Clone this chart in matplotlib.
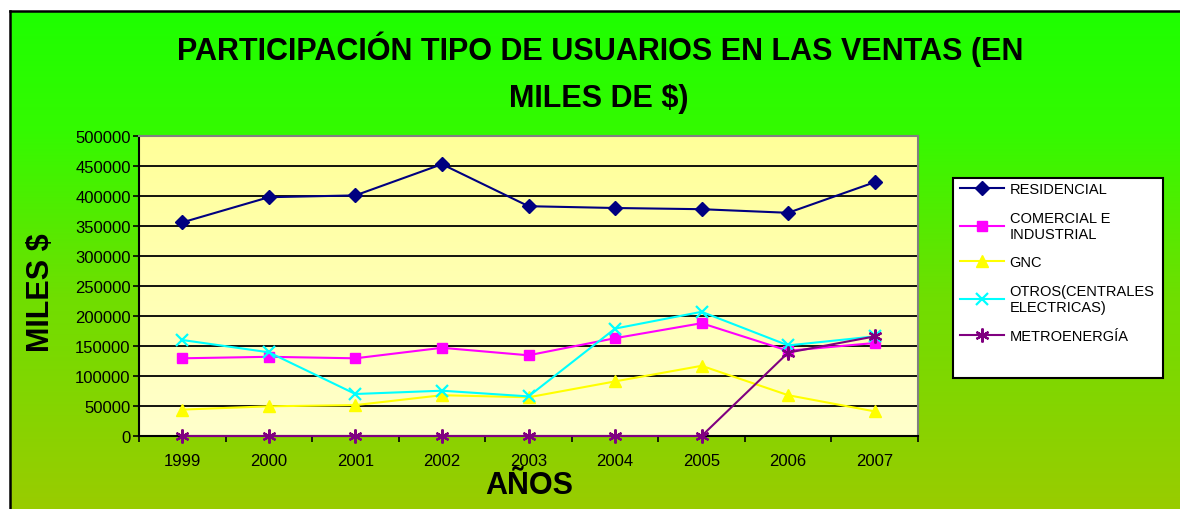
import matplotlib
matplotlib.use('Agg')
import matplotlib.pyplot as plt
import numpy as np
from matplotlib.patches import Rectangle

# ---------------- data (miles de $) ----------------
years = ['1999', '2000', '2001', '2002', '2003', '2004', '2005', '2006', '2007']
residencial = [356000, 398000, 401000, 453000, 383000, 380000, 378000, 372000, 423000]
comercial = [129500, 132000, 129500, 147000, 134500, 163000, 188000, 142000, 155000]
gnc = [44000, 49500, 51500, 68000, 64500, 91000, 117000, 68000, 41000]
otros = [160000, 139500, 70000, 75500, 66000, 179000, 207000, 151000, 166000]
metro = [0, 0, 0, 0, 0, 0, 0, 139000, 166000]

series_labels = ['RESIDENCIAL', 'COMERCIAL E\nINDUSTRIAL', 'GNC',
                 'OTROS(CENTRALES\nELECTRICAS)', 'METROENERGÍA']
yticks = list(range(0, 500001, 50000))

plt.rcParams['font.family'] = ['Liberation Sans', 'DejaVu Sans']

W, H = 1180, 510
fig = plt.figure(figsize=(W/100., H/100.), dpi=100)
fig.patch.set_facecolor('white')


def fx(px):
    return px/float(W)


def fy(py):
    return 1 - py/float(H)


# green chart background with gradient
bg = fig.add_axes([fx(10), 0, 1 - fx(10), fy(12)], zorder=0)
stops_y = [0.0, 0.24, 0.58, 1.0]
stops_c = np.array([[30, 255, 0], [52, 250, 0], [112, 222, 0], [153, 204, 0]]) / 255.
yy = np.linspace(0, 1, 256)
grad = np.stack([np.interp(yy, stops_y, stops_c[:, k]) for k in range(3)], axis=1)
bg.imshow(grad[:, None, :], aspect='auto', extent=[0, 1, 1, 0])
bg.set_xlim(0, 1)
bg.set_ylim(1, 0)
bg.set_xticks([])
bg.set_yticks([])
for s in ['left', 'top']:
    bg.spines[s].set_color('black')
    bg.spines[s].set_linewidth(1.8)
for s in ['right', 'bottom']:
    bg.spines[s].set_visible(False)

# plot area (pale yellow, lighter towards the bottom)
ax = fig.add_axes([fx(139), fy(437), fx(918) - fx(139), fy(137) - fy(437)], zorder=2)
ax.set_facecolor('none')
pa = np.linspace(0, 1, 256)
pgrad = np.stack([np.ones_like(pa), np.ones_like(pa), 0.6 + 0.2*pa], axis=1)
ax.imshow(pgrad[:, None, :], aspect='auto', extent=[0, 1, 0, 1],
          transform=ax.transAxes, zorder=0)

x = np.arange(len(years))
styles = [
    (residencial, '#000080', 'D', 7, 1.5),
    (comercial, '#FF00FF', 's', 7, 1.5),
    (gnc, '#FFFF00', '^', 8.5, 1.5),
    (otros, '#00FFFF', 'x', 9, 1.5),
    (metro, '#800080', (6, 2, 0), 10, 1.5),
]
handles = []
for (vals, col, mk, ms, lw), lab in zip(styles, series_labels):
    h, = ax.plot(x, vals, '-', color=col, lw=lw, marker=mk, markersize=ms,
                 markeredgewidth=1.6 if mk in ('x', (6, 2, 0)) else 1,
                 markeredgecolor=col, markerfacecolor=col, label=lab,
                 clip_on=False, zorder=4)
    handles.append(h)

ax.set_xlim(-0.5, len(years) - 0.5)
ax.set_ylim(0, 500000)
ax.set_yticks(yticks)
ax.set_yticklabels([str(v) for v in yticks], fontsize=12)
ax.set_xticks(x)
ax.set_xticklabels(years, fontsize=12)
ax.set_xticks(np.arange(len(years) + 1) - 0.5, minor=True)
ax.tick_params(axis='x', which='major', length=0, pad=12)
ax.tick_params(axis='x', which='minor', length=4, width=1.2, direction='out')
ax.tick_params(axis='y', length=4, width=1.2, direction='out', pad=2)
ax.yaxis.grid(True, color='black', lw=1.3, zorder=1)
ax.set_axisbelow(True)
for s in ['left', 'bottom']:
    ax.spines[s].set_color('black')
    ax.spines[s].set_linewidth(1.5)
for s in ['top', 'right']:
    ax.spines[s].set_color('#808080')
    ax.spines[s].set_linewidth(1.5)

# titles
fig.text(fx(600), fy(60), 'PARTICIPACIÓN TIPO DE USUARIOS EN LAS VENTAS (EN',
         ha='center', va='baseline', fontsize=22, fontweight='bold')
fig.text(fx(599), fy(107), 'MILES DE $)', ha='center', va='baseline',
         fontsize=22, fontweight='bold')
fig.text(fx(529), fy(494), 'AÑOS', ha='center', va='baseline',
         fontsize=22, fontweight='bold')
fig.text(fx(41), fy(293), 'MILES $', ha='center', va='center', rotation=90,
         fontsize=22, fontweight='bold')

# legend box
fig.patches.append(Rectangle((fx(953), fy(379)), fx(1163) - fx(953), fy(179) - fy(379),
                             transform=fig.transFigure, facecolor='white',
                             edgecolor='black', lw=1.5, zorder=3))
leg = fig.legend(handles=handles, loc='upper left', bbox_to_anchor=(fx(957), fy(180)),
                 frameon=False, fontsize=10.5, handlelength=3.0, handletextpad=0.4,
                 labelspacing=1.0, borderaxespad=0, borderpad=0.2)
leg.set_zorder(5)

fig.savefig('out.png', dpi=100, facecolor='white')
